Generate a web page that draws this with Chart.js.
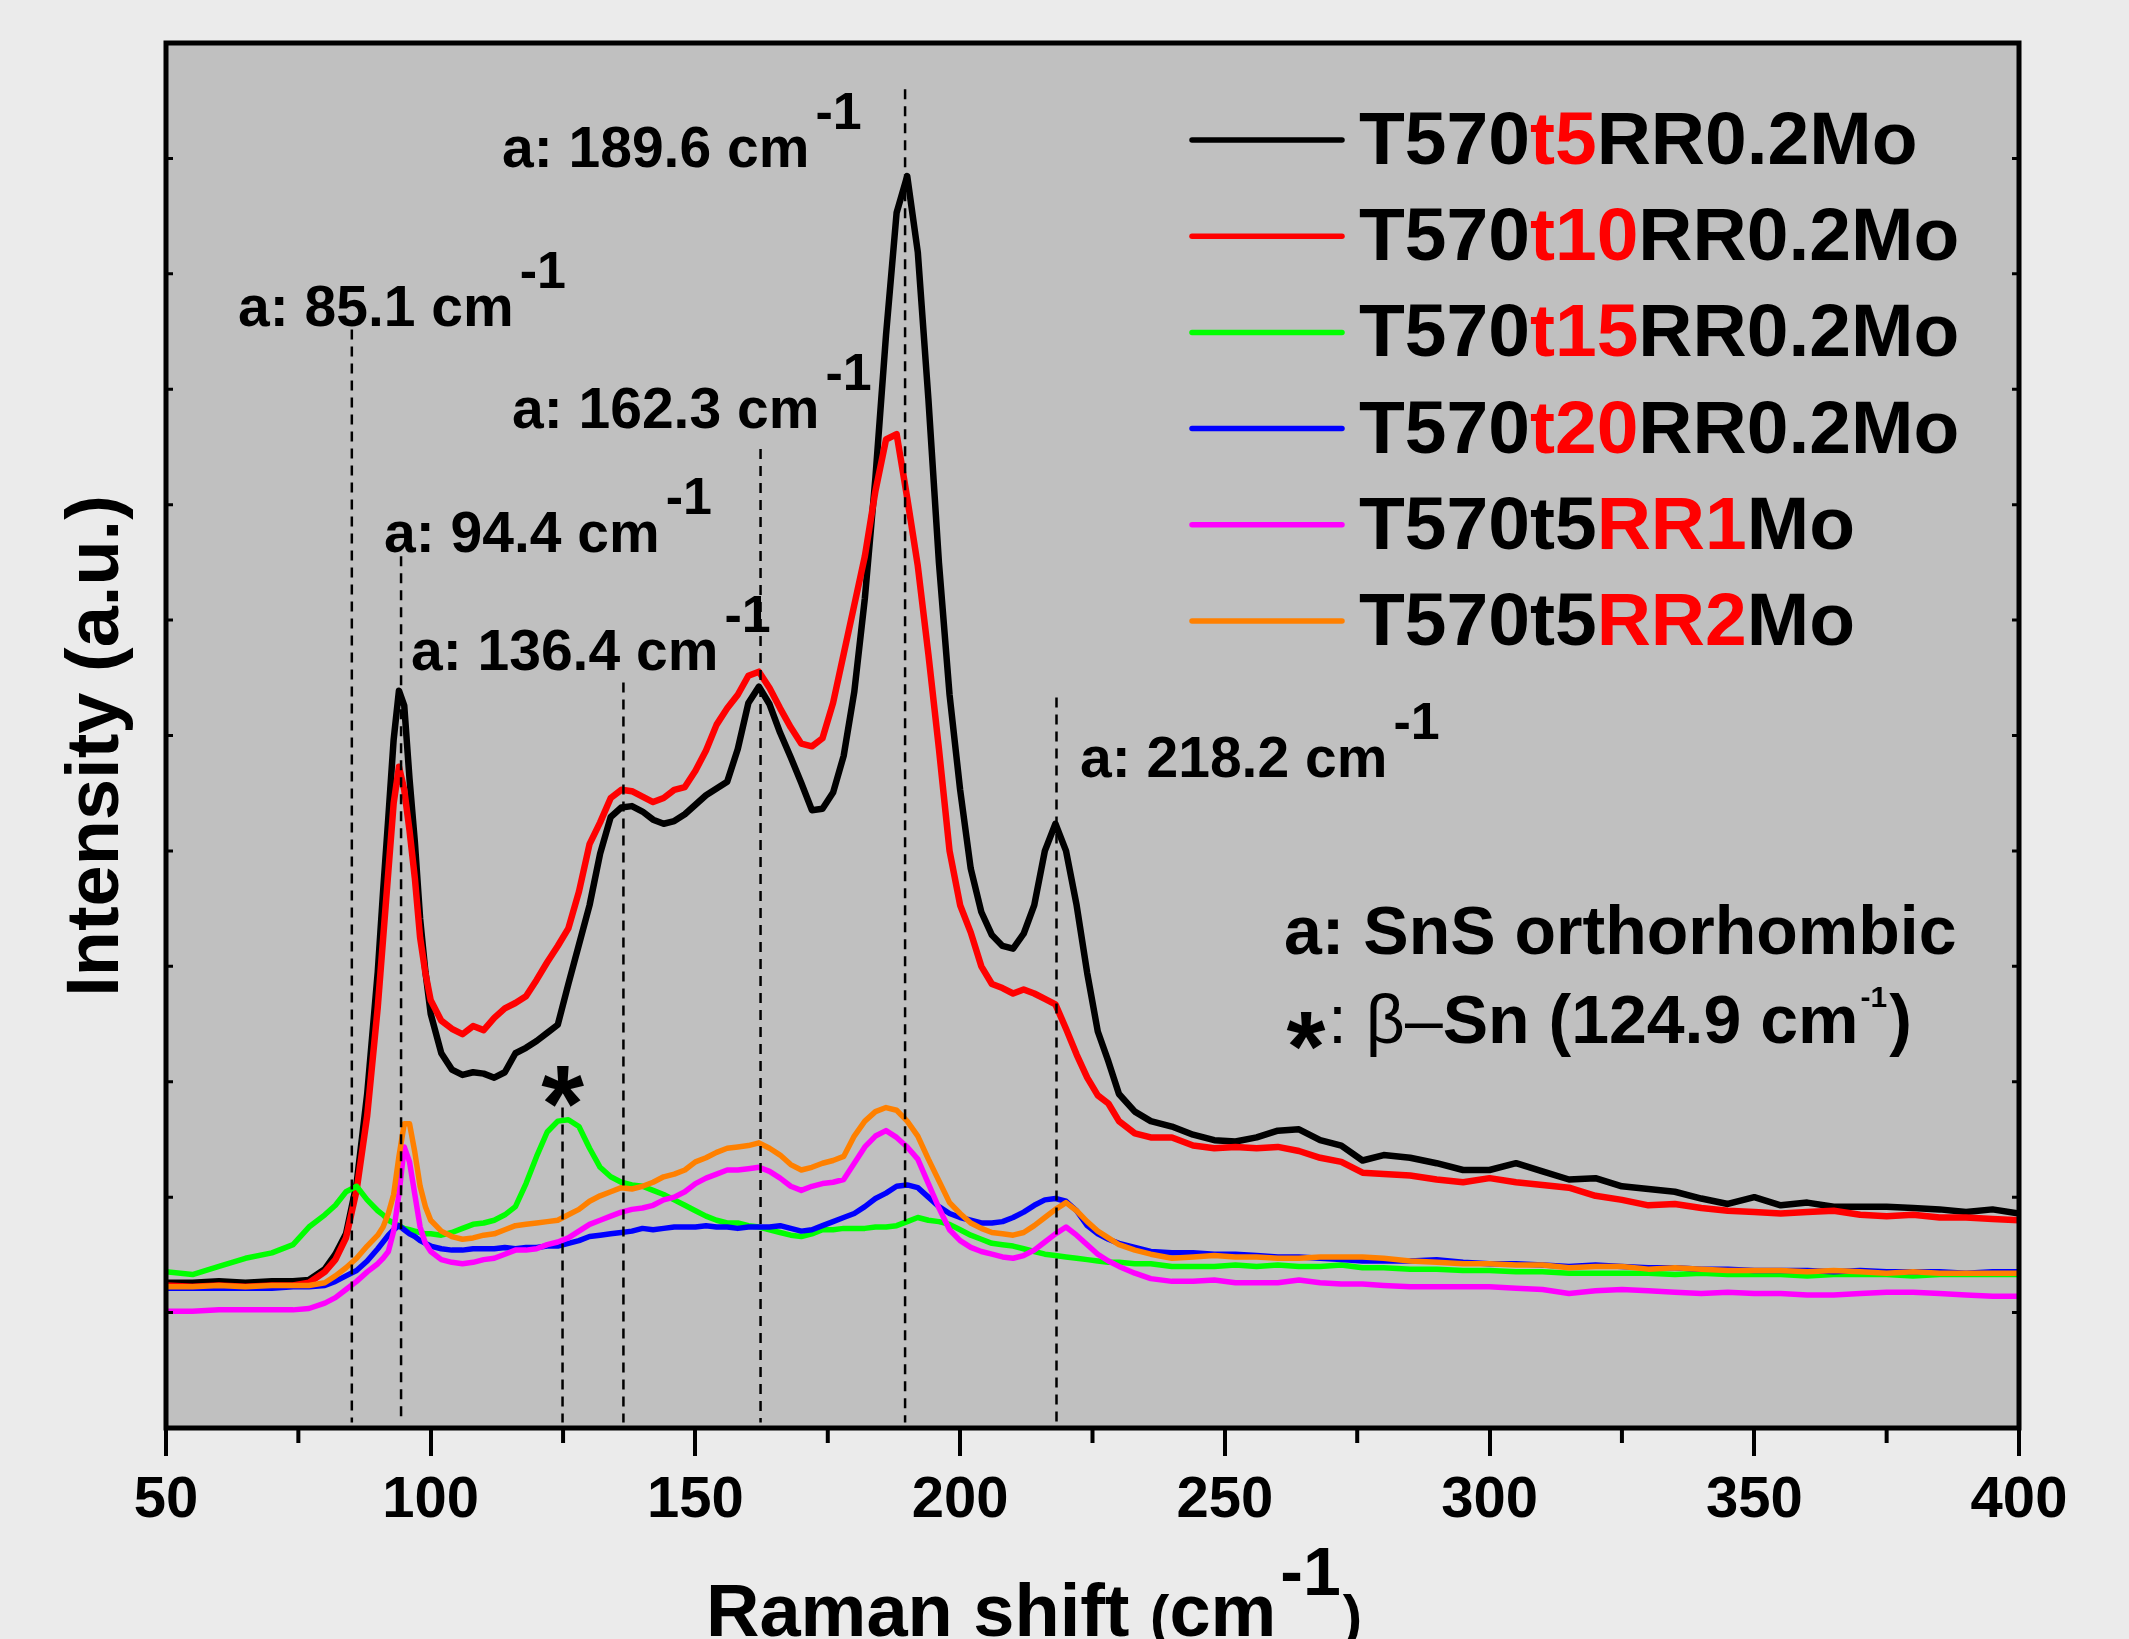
<!DOCTYPE html>
<html>
<head>
<meta charset="utf-8">
<title>Raman spectra</title>
<script src="https://cdn.jsdelivr.net/npm/chart.js@4.4.1/dist/chart.umd.min.js"></script>
<style>
  html, body { margin: 0; padding: 0; background: #ebebeb; overflow: hidden; }
  #wrap { width: 2129px; height: 1639px; }
</style>
</head>
<body>
<div id="wrap"><canvas id="chart" width="2129" height="1639"></canvas></div>
<script>
// ---- data ----
const ramanShift = [
  50,55,60,65,70,74,77,80,82,84,86,88,90,91,92,93,94,95,96,97,98,99,100,
  102,104,106,108,110,112,114,116,118,120,122,124,126,128,130,132,134,136,138,140,
  142,144,146,148,150,152,154,156,158,160,162,164,166,168,170,172,174,176,178,180,
  182,184,186,188,190,192,194,196,198,200,202,204,206,208,210,212,214,216,218,220,
  222,224,226,228,230,
  233,236,
  240,244,248,252,256,260,264,268,272,276,280,
  285,290,295,300,305,310,315,320,325,330,335,340,345,350,355,360,365,370,375,380,385,390,395,400
];

const intT5 = [
  107,107,108,107,108,108,109,117,128,143,180,246,336,395,450,507,543,532,478,432,375,336,305,
  276,264,260,262,261,258,262,276,280,285,291,297,327,356,385,423,450,457,458,454,
  448,445,447,452,459,466,471,476,500,534,546,533,512,494,475,455,456,468,495,542,
  611,700,805,895,922,866,758,637,540,470,412,380,363,355,353,364,385,425,445,425,
  385,335,292,270,246,
  233,226,
  222,216,212,211,214,219,220,212,208,197,201,
  199,195,190,190,195,189,183,184,178,176,174,169,165,170,164,166,163,163,163,162,161,159,161,158
];

const intT10 = [
  105,104,105,104,105,105,107,115,124,140,175,230,310,360,410,460,487,470,440,405,361,335,315,
  300,294,290,296,293,302,309,313,318,330,343,355,368,395,430,446,464,470,469,465,
  461,464,470,472,484,499,518,530,540,554,557,545,530,516,504,502,508,534,570,606,
  642,690,728,732,685,635,570,500,425,385,365,340,327,324,320,323,320,316,312,294,
  275,258,245,239,226,
  217,214,
  214,208,206,207,206,207,204,199,196,188,187,
  186,183,181,184,181,179,177,171,168,164,165,162,160,159,158,159,160,157,156,157,155,155,154,153
];

const intT15 = [
  115,113,119,125,129,135,148,157,164,174,178,168,160,157,153,151,149,147,146,145,144,143,143,
  142,144,147,150,151,153,157,163,180,200,218,226,227,222,206,192,185,181,179,178,
  175,172,168,164,160,156,153,151,151,149,148,146,144,142,141,143,146,146,147,147,
  147,148,148,149,152,155,153,152,150,146,142,139,136,135,134,132,130,128,127,126,
  125,124,123,122,122,
  121,121,
  119,119,119,120,119,120,119,119,120,118,118,
  117,117,116,116,115,115,114,114,114,114,113,114,113,113,113,112,113,113,113,112,113,113,113,113
];

const intT20 = [
  103,103,103,103,103,104,104,105,108,112,116,123,132,137,142,146,149,146,143,141,138,136,134,
  132,131,131,132,132,132,133,132,133,133,134,134,136,138,141,142,143,144,145,147,
  146,147,148,148,148,149,148,148,147,148,148,148,149,147,145,146,149,152,155,158,
  163,169,173,178,179,177,170,163,158,155,153,151,151,152,155,159,164,168,169,167,
  160,149,143,139,136,
  133,130,
  129,129,128,128,127,126,126,125,124,123,123,
  123,124,122,121,121,120,119,120,119,118,118,117,117,116,116,116,115,116,115,115,115,114,115,115
];

const intRR1 = [
  86,86,87,87,87,87,88,92,96,102,108,115,121,125,130,145,172,207,196,172,148,136,130,
  124,122,121,122,124,125,128,131,131,132,135,137,140,145,150,153,156,159,161,162,
  164,168,170,174,180,184,187,190,190,191,192,189,184,178,175,178,180,181,183,195,
  207,215,219,214,207,198,180,162,146,138,133,130,128,126,125,127,131,137,143,148,
  142,135,128,123,119,
  114,110,
  108,108,109,107,107,107,109,107,106,106,105,
  104,104,104,104,103,102,99,101,102,101,100,99,100,99,99,98,98,99,100,100,99,98,97,97
];

const intRR2 = [
  104,104,105,104,105,105,105,107,112,118,125,134,142,148,158,172,200,224,224,203,178,163,153,
  145,141,139,140,142,143,146,149,150,151,152,153,157,161,167,171,174,177,176,178,
  181,185,187,190,196,199,203,206,207,208,210,206,201,194,190,192,195,197,200,215,
  226,233,236,234,226,215,198,182,166,158,151,147,144,143,142,144,149,155,161,166,
  160,152,145,140,135,
  131,128,
  125,126,127,126,126,125,125,126,126,126,125,
  123,122,121,121,120,120,118,119,119,117,118,117,116,116,116,115,116,115,114,115,114,114,114,114
];

const seriesNames = ['T570t5RR0.2Mo', 'T570t10RR0.2Mo', 'T570t15RR0.2Mo', 'T570t20RR0.2Mo', 'T570t5RR1Mo', 'T570t5RR2Mo'];
const seriesMark = ['t5', 't10', 't15', 't20', 'RR1', 'RR2'];   // part of the name shown in red
const seriesColors = ['#000000', '#ff0000', '#00ff00', '#0000ff', '#ff00ff', '#ff8000'];

const peaksSnS = [85.1, 94.4, 136.4, 162.3, 189.6, 218.2];
const peaksSnSTop = [809, 642, 549, 721, 986, 538];
const peakBetaSn = 124.9;
const peakBetaSnTop = 236;

const xTicks = [50, 100, 150, 200, 250, 300, 350, 400];
const xMinorTicks = [75, 125, 175, 225, 275, 325, 375];

// ---- layout ----
const FONT = "'Liberation Sans', Arial, Helvetica, sans-serif";
const labelPos = [[238, 326], [384, 552], [411, 670], [512, 428], [502, 167], [1080, 777]];

function fontB(px) { return 'bold ' + px + 'px ' + FONT; }
function fontN(px) { return px + 'px ' + FONT; }

// draw runs of text one after another, returns the end x
function runs(ctx, x, y, parts) {
  for (const p of parts) {
    ctx.font = p.f;
    ctx.fillStyle = p.c || '#000';
    ctx.fillText(p.t, x + (p.dx || 0), y + (p.dy || 0));
    x += ctx.measureText(p.t).width + (p.dx || 0);
  }
  return x;
}

// asterisk placed by its top edge
function star(ctx, cx, top, px) {
  ctx.font = fontB(px);
  ctx.textAlign = 'center';
  const m = ctx.measureText('*');
  ctx.fillText('*', cx, top + m.actualBoundingBoxAscent);
  ctx.textAlign = 'left';
}

const decor = {
  id: 'decor',
  beforeDraw(chart) {
    const { ctx, chartArea: a } = chart;
    ctx.save();
    ctx.fillStyle = '#c0c0c0';
    ctx.fillRect(a.left, a.top, a.right - a.left, a.bottom - a.top);
    ctx.restore();
  },
  afterDraw(chart) {
    const { ctx, chartArea: a } = chart;
    const xs = chart.scales.x, ys = chart.scales.y;
    ctx.save();

    // frame
    ctx.strokeStyle = '#000';
    ctx.lineWidth = 5;
    ctx.strokeRect(a.left, a.top, a.right - a.left, a.bottom - a.top);

    // minor ticks
    ctx.lineWidth = 4;
    ctx.beginPath();
    for (const v of xMinorTicks) {
      const px = xs.getPixelForValue(v);
      ctx.moveTo(px, a.bottom); ctx.lineTo(px, a.bottom + 15);
    }
    ctx.stroke();
    ctx.lineWidth = 3;
    ctx.beginPath();
    for (let v = 85; v < 1020; v += 85) {
      const py = ys.getPixelForValue(v);
      ctx.moveTo(a.left, py); ctx.lineTo(a.left + 7, py);
      ctx.moveTo(a.right - 7, py); ctx.lineTo(a.right, py);
    }
    ctx.stroke();

    ctx.fillStyle = '#000';
    ctx.textBaseline = 'alphabetic';

    // peak labels
    peaksSnS.forEach((p, i) => {
      const [lx, ly] = labelPos[i];
      ctx.font = fontB(57);
      const txt = 'a: ' + p.toFixed(1) + ' cm';
      ctx.fillText(txt, lx, ly);
      const w = ctx.measureText(txt).width;
      ctx.font = fontB(52);
      ctx.fillText('-1', lx + w + 6, ly - 38);
    });

    // beta-Sn star above its line
    star(ctx, xs.getPixelForValue(peakBetaSn), ys.getPixelForValue(peakBetaSnTop) - 42, 110);

    // legend
    seriesNames.forEach((name, i) => {
      const y = 140 + i * 96.2;
      ctx.strokeStyle = seriesColors[i];
      ctx.lineWidth = 5.5;
      ctx.lineCap = 'round';
      ctx.beginPath(); ctx.moveTo(1192, y); ctx.lineTo(1342, y); ctx.stroke();
      const k = name.indexOf(seriesMark[i]);
      runs(ctx, 1359, y + 24, [
        { t: name.slice(0, k), f: fontB(75) },
        { t: seriesMark[i], f: fontB(75), c: '#ff0000' },
        { t: name.slice(k + seriesMark[i].length), f: fontB(75) }
      ]);
    });

    // phase note
    ctx.fillStyle = '#000';
    ctx.font = fontB(68);
    ctx.fillText('a: SnS orthorhombic', 1284, 954);
    star(ctx, 1306, 1012, 100);
    let x = runs(ctx, 1328, 1043, [
      { t: ':', f: fontN(68) },
      { t: ' \u03b2', f: fontN(68) },
      { t: '\u2013', f: fontN(68) },
      { t: 'Sn (124.9 cm', f: fontB(68) }
    ]);
    x = runs(ctx, x + 2, 1007, [{ t: '-1', f: fontB(30) }]);
    runs(ctx, x + 2, 1043, [{ t: ')', f: fontB(68) }]);

    // axis titles
    ctx.save();
    ctx.translate(118, 746);
    ctx.rotate(-Math.PI / 2);
    ctx.font = fontB(74);
    ctx.textAlign = 'center';
    ctx.fillText('Intensity (a.u.)', 0, 0);
    ctx.restore();

    x = runs(ctx, 706, 1636, [
      { t: 'Raman shift ', f: fontB(74) },
      { t: '(', f: fontB(58) },
      { t: 'cm', f: fontB(74) }
    ]);
    x = runs(ctx, x + 4, 1595, [{ t: '-1', f: fontB(68) }]);
    runs(ctx, x + 2, 1636, [{ t: ')', f: fontB(58) }]);

    ctx.restore();
  }
};

const curves = [intT5, intT10, intT15, intT20, intRR1, intRR2];
const datasets = curves.map((arr, i) => ({
  label: seriesNames[i],
  data: ramanShift.map((x, j) => ({ x: x, y: arr[j] })),
  borderColor: seriesColors[i],
  borderWidth: i < 2 ? 6.5 : 5.5,
  borderJoinStyle: 'round',
  borderCapStyle: 'round',
  pointRadius: 0,
  tension: 0,
  fill: false,
  order: 10 - i
}));

// dashed markers at the assigned positions
const markPos = peaksSnS.concat([peakBetaSn]);
const markTop = peaksSnSTop.concat([peakBetaSnTop]);
markPos.forEach((p, i) => {
  datasets.push({
    label: 'mark' + i,
    data: [{ x: p, y: markTop[i] }, { x: p, y: 4 }],
    borderColor: '#000',
    borderWidth: 2.5,
    borderDash: [10, 7],
    pointRadius: 0,
    fill: false,
    order: -1
  });
});

new Chart(document.getElementById('chart').getContext('2d'), {
  type: 'line',
  data: { datasets: datasets },
  options: {
    responsive: false,
    animation: false,
    layout: { padding: { top: 43, right: 110, left: 0, bottom: 0 } },
    plugins: { legend: { display: false }, tooltip: { enabled: false } },
    scales: {
      x: {
        type: 'linear', min: 50, max: 400,
        afterBuildTicks: s => { s.ticks = xTicks.map(v => ({ value: v })); },
        ticks: { font: { family: FONT, size: 58, weight: 'bold' }, color: '#000', padding: 10, maxRotation: 0, autoSkip: false },
        grid: { drawOnChartArea: false, tickLength: 28, lineWidth: 4, color: '#000' },
        border: { display: false },
        afterFit: s => { s.height = 211; }
      },
      y: {
        min: 0, max: 1020,
        ticks: { display: false },
        grid: { display: false },
        border: { display: false },
        afterFit: s => { s.width = 166; }
      }
    }
  },
  plugins: [decor]
});
</script>
</body>
</html>
